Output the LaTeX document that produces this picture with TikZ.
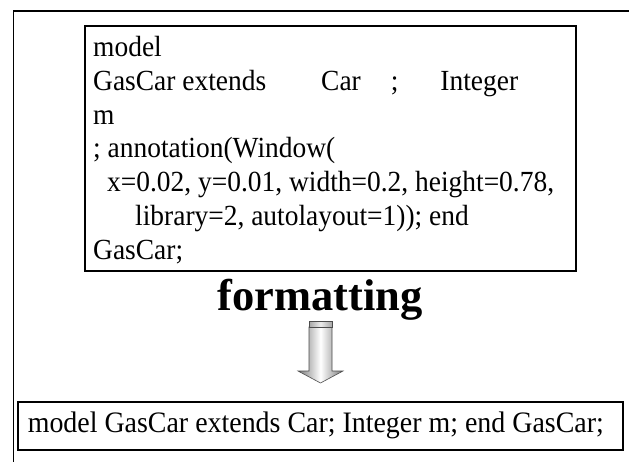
\documentclass[tikz,border=0pt]{standalone}
\usepackage{fontspec}
\setmainfont{Liberation Serif}[FakeStretch=0.94]
\newfontfamily\headfont{Liberation Serif}
\begin{document}
\begin{tikzpicture}[x=1pt, y=-1pt,
  frame/.style={draw=black, line width=1.6pt},
  codebox/.style={draw=black, line width=1.6pt, fill=white, inner sep=0pt, anchor=north west},
  codefont/.style={font=\fontsize{29.2}{33.8}\selectfont},
  codetext/.style={codefont, align=left, inner sep=0pt, anchor=north west},
  steplabel/.style={font=\headfont\bfseries\fontsize{44.5}{50}\selectfont, inner sep=0pt, anchor=base},
  blockarrow/.style={left color=gray!95!black, right color=gray!95!black, middle color=white,
    draw=black!70, line width=0.6pt}
]
\useasboundingbox (0,0) rectangle (629,462);
\clip (0,0) rectangle (629,462);
\fill[white] (0,0) rectangle (629,462);

% outer frame (runs past the right and bottom edges)
\draw[frame] (13.5,11) rectangle (680,500);

% unformatted source
\node[codebox, minimum width=491pt, minimum height=245pt] (src) at (84,25) {};
\node[codetext] (srccode) at (93,36) {model\\
GasCar extends\hspace*{55pt}Car\hspace*{30pt};\hspace*{42pt}Integer\\
m\\
; annotation(Window(\\
\hspace*{14pt}x=0.02, y=0.01, width=0.2, height=0.78,\\
\hspace*{42pt}library=2, autolayout=1)); end\\
GasCar;};

% step label
\node[steplabel] (fmt) at (320,310) {formatting};

% block arrow
\coordinate (atop) at (320.5,321);
\shade[blockarrow] (309,327) -- (332,327) -- (332,371) -- (343,371) -- (320.5,383)
  -- (298,371) -- (309,371) -- cycle;
\shade[blockarrow, left color=gray!70, right color=gray!70, middle color=gray!15]
  (atop) ++(-11.5,0) rectangle ++(23,6);

% formatted result
\node[codebox, font=\fontsize{29.7}{33.8}\selectfont, minimum width=605pt,
  minimum height=48pt, inner xsep=10pt] (out) at (17,401)
  {\makebox[585pt][l]{model GasCar extends Car; Integer m; end GasCar;}};
\end{tikzpicture}
\end{document}
